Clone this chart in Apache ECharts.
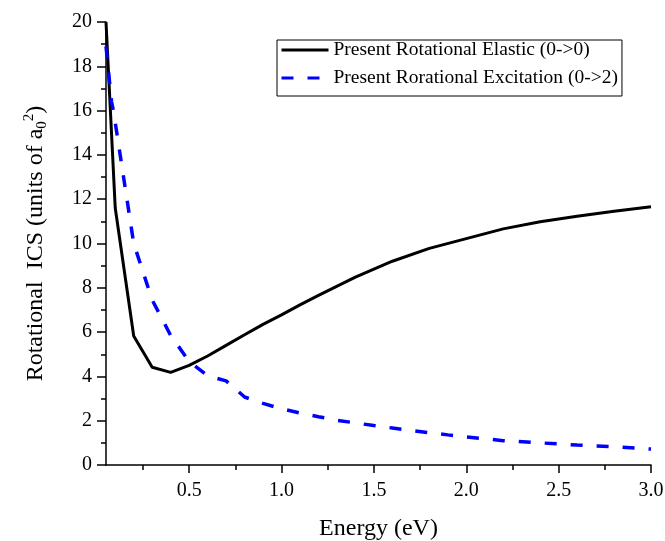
<!DOCTYPE html>
<html>
<head>
<meta charset="utf-8">
<script src="https://cdn.jsdelivr.net/npm/echarts@6/dist/echarts.min.js"></script>
<style>html,body{margin:0;padding:0;background:#fff;}#chart{width:665px;height:541px;}</style>
</head>
<body>
<div id="chart"></div>
<script>
// Data
const elasticLabel = 'Present Rotational Elastic (0->0)';
const excitationLabel = 'Present Rorational Excitation (0->2)';

const elasticEnergy = [0.05, 0.1, 0.2, 0.3, 0.4, 0.5, 0.6, 0.7, 0.8, 0.9, 1.0, 1.1, 1.2, 1.4, 1.6, 1.8, 2.0, 2.2, 2.4, 2.6, 2.8, 3.0];
const elasticICS    = [20.0, 11.6, 5.82, 4.41, 4.18, 4.5, 4.92, 5.4, 5.88, 6.35, 6.78, 7.23, 7.66, 8.48, 9.2, 9.78, 10.22, 10.66, 10.98, 11.23, 11.46, 11.66];

const excitationEnergy = [0.05, 0.08, 0.09, 0.2, 0.3, 0.4, 0.5, 0.6, 0.7, 0.8, 0.9, 1.0, 1.1, 1.2, 1.3, 1.4, 1.5, 1.6, 1.7, 1.8, 1.9, 2.0, 2.2, 2.4, 2.6, 2.8, 3.0];
const excitationICS    = [18.9, 16.4, 16.0, 10.0, 7.45, 5.85, 4.68, 4.03, 3.8, 3.07, 2.78, 2.54, 2.35, 2.18, 2.02, 1.9, 1.78, 1.67, 1.56, 1.46, 1.36, 1.27, 1.1, 1.0, 0.9, 0.83, 0.72];

const xMajorTicks = [0.5, 1.0, 1.5, 2.0, 2.5, 3.0];
const xMinorTicks = [0.25, 0.75, 1.25, 1.75, 2.25, 2.75];

const pair = (xs, ys) => xs.map((x, i) => [x, ys[i]]);

const FONT = 'Liberation Serif';
const chart = echarts.init(document.getElementById('chart'), null, {renderer: 'canvas'});

chart.setOption({
  backgroundColor: '#fff',
  animation: false,
  grid: {left: 106, right: 14, top: 22, bottom: 76, containLabel: false, outerBoundsMode: 'none'},
  legend: {
    orient: 'vertical',
    left: 277,
    top: 40,
    padding: [0, 4, 8, 3],
    itemWidth: 47,
    itemHeight: 14,
    itemGap: 8,
    borderColor: '#000',
    borderWidth: 1,
    borderRadius: 0,
    itemStyle: {opacity: 0},
    lineStyle: {width: 3},
    textStyle: {fontFamily: FONT, fontSize: 19.5, color: '#000', lineHeight: 18},
    data: [elasticLabel, excitationLabel]
  },
  xAxis: [
    {
      type: 'value', min: 0.05, max: 3.0,
      name: 'Energy (eV)', nameLocation: 'middle', nameGap: 52,
      nameTextStyle: {fontFamily: FONT, fontSize: 24, color: '#000'},
      axisLine: {show: true, onZero: false, lineStyle: {color: '#000', width: 1.5}},
      axisTick: {show: true, inside: false, length: 8, customValues: xMajorTicks, lineStyle: {color: '#000', width: 1.5}},
      axisLabel: {show: true, margin: 16, customValues: xMajorTicks, fontFamily: FONT, fontSize: 20, color: '#000',
        formatter: v => v.toFixed(1)},
      splitLine: {show: false}
    },
    {
      type: 'value', min: 0.05, max: 3.0, position: 'bottom',
      axisLine: {show: false, onZero: false},
      axisTick: {show: true, inside: false, length: 5, customValues: xMinorTicks, lineStyle: {color: '#000', width: 1.5}},
      axisLabel: {show: false},
      splitLine: {show: false}
    }
  ],
  yAxis: {
    type: 'value', min: 0, max: 20, interval: 2,
    name: 'Rotational  ICS (units of a{sub|0}{sup|2})',
    nameLocation: 'middle', nameGap: 55, nameRotate: 90,
    nameTextStyle: {
      fontFamily: FONT, fontSize: 24, color: '#000',
      rich: {
        sub: {fontFamily: FONT, fontSize: 15, color: '#000', padding: [12, 0, 0, 0], lineHeight: 30},
        sup: {fontFamily: FONT, fontSize: 15, color: '#000', padding: [0, 0, 14, 0], lineHeight: 30}
      }
    },
    axisLine: {show: true, onZero: false, lineStyle: {color: '#000', width: 1.5}},
    axisTick: {show: true, inside: false, length: 9, lineStyle: {color: '#000', width: 1.5}},
    minorTick: {show: true, splitNumber: 2, length: 5, lineStyle: {color: '#000', width: 1.5}},
    axisLabel: {margin: 14, fontFamily: FONT, fontSize: 20, color: '#000'},
    splitLine: {show: false},
    minorSplitLine: {show: false}
  },
  series: [
    {
      name: elasticLabel, type: 'line', xAxisIndex: 0,
      data: pair(elasticEnergy, elasticICS),
      showSymbol: false, symbol: 'none', smooth: false, clip: true,
      lineStyle: {color: '#000', width: 3},
      itemStyle: {color: '#000'}
    },
    {
      name: excitationLabel, type: 'line', xAxisIndex: 0,
      data: pair(excitationEnergy, excitationICS),
      showSymbol: false, symbol: 'none', smooth: false, clip: true,
      lineStyle: {color: '#0000ff', width: 3.5, type: [12, 14]},
      itemStyle: {color: '#0000ff'}
    }
  ]
});
</script>
</body>
</html>
